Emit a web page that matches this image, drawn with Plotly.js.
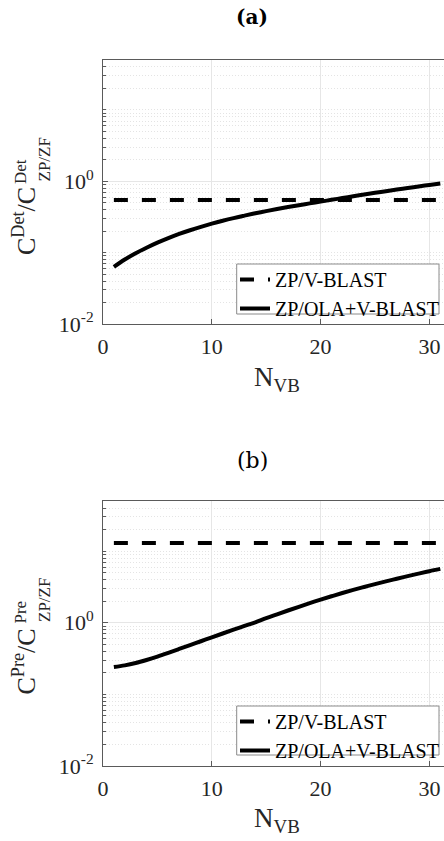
<!DOCTYPE html>
<html>
<head>
<meta charset="utf-8">
<script src="https://cdn.plot.ly/plotly-3.0.1.min.js"></script>
<style>
html,body{margin:0;padding:0;background:#fff;overflow:hidden;}
#chart{width:444px;height:841px;}
</style>
</head>
<body>
<div id="chart"></div>
<script>
// ---- data ----
const nVB = [1,2,3,4,5,6,7,8,9,10,11,12,13,14,15,16,17,18,19,20,21,22,23,24,25,26,27,28,29,30,31];
const legendNames = ["ZP/V-BLAST", "ZP/OLA+V-BLAST"];
// (a) detection complexity ratio
const detZPVBLAST = 0.547;
const detZPOLA = [0.063,0.080,0.098,0.117,0.138,0.160,0.183,0.206,0.230,0.255,0.280,0.305,0.330,0.356,0.382,0.408,0.435,0.462,0.490,0.519,0.550,0.582,0.616,0.652,0.689,0.727,0.766,0.806,0.847,0.889,0.932];
// (b) precoding complexity ratio
const preZPVBLAST = 13.0;
const preZPOLA = [0.241,0.254,0.274,0.302,0.337,0.380,0.431,0.488,0.552,0.625,0.708,0.800,0.902,1.016,1.161,1.312,1.483,1.671,1.879,2.104,2.344,2.600,2.871,3.162,3.467,3.784,4.121,4.477,4.853,5.248,5.649];
const yTickVals = [0.01, 1];
const yTickText = ["10<sup>-2</sup>", "10<sup>0</sup>"];
const xTickVals = [0, 10, 20, 30];
const panelTitles = ["<b>(a)</b>", "(b)"];
const yTitleMain = ["C<sup>Det</sup>/C", "C<sup>Pre</sup>/C"];
const yTitleSup = ["Det", "Pre"];
const yTitleSub = "ZP/ZF";
const xTitle = "N<sub>VB</sub>";

// ---- layout geometry ----
const W = 444, H = 841;
const M = {l:103, r:0, t:60, b:75};
const PW = W - M.l - M.r, PH = H - M.t - M.b;
const xp = px => (px - M.l) / PW;
const yp = py => (H - M.b - py) / PH;

const minorVals = [];
[0.01, 0.1, 1, 10].forEach(d => { for (let k = 1; k <= 9; k++) { const v = d*k; if (Math.abs(v-0.01)>1e-9 && Math.abs(v-1)>1e-9 && v <= 50) minorVals.push(v); } });

const serif = "Liberation Serif, Times New Roman, serif";
const axisCol = "#5a5a5a";
const txtCol = "#262626";

function xaxis(anchor) {
  return {
    anchor: anchor, range: [0, 31.34], tickvals: xTickVals, ticktext: xTickVals.map(String),
    ticks: "inside", ticklen: 5, tickcolor: axisCol, showline: true, linecolor: axisCol, linewidth: 1,
    mirror: true, showgrid: true, gridcolor: "#e6e6e6", gridwidth: 1, zeroline: false,
    tickfont: {family: serif, size: 22, color: txtCol}, ticklabelstandoff: 3
  };
}
function yaxis(anchor, domain) {
  return {
    anchor: anchor, domain: domain, type: "log", range: [-2, 1.7],
    tickvals: yTickVals, ticktext: yTickText, ticks: "inside", ticklen: 5, tickcolor: axisCol,
    showline: true, linecolor: axisCol, linewidth: 1, mirror: false,
    showgrid: true, gridcolor: "#e6e6e6", gridwidth: 1, zeroline: false,
    tickfont: {family: serif, size: 22, color: txtCol}, ticklabelstandoff: 4,
    minor: {tickvals: minorVals, ticks: "inside", ticklen: 3, tickcolor: axisCol,
            showgrid: true, gridcolor: "#e4e4e4", griddash: "1px,2px", gridwidth: 1}
  };
}

const traces = [
  {x: nVB, y: nVB.map(() => detZPVBLAST), xaxis: "x", yaxis: "y", mode: "lines", name: legendNames[0],
   line: {color: "#000", width: 4, dash: "14px,14px"}, legend: "legend"},
  {x: nVB, y: detZPOLA, xaxis: "x", yaxis: "y", mode: "lines", name: legendNames[1],
   line: {color: "#000", width: 4, shape: "spline"}, legend: "legend"},
  {x: nVB, y: nVB.map(() => preZPVBLAST), xaxis: "x2", yaxis: "y2", mode: "lines", name: legendNames[0],
   line: {color: "#000", width: 4, dash: "14px,14px"}, legend: "legend2"},
  {x: nVB, y: preZPOLA, xaxis: "x2", yaxis: "y2", mode: "lines", name: legendNames[1],
   line: {color: "#000", width: 4, shape: "spline"}, legend: "legend2"}
];

const legendStyle = (ytop) => ({
  x: xp(235), y: yp(ytop), xref: "paper", yref: "paper", xanchor: "left", yanchor: "top",
  bgcolor: "rgba(0,0,0,0)", borderwidth: 0,
  font: {family: serif, size: 20, color: "#000"}, tracegroupgap: 0, itemwidth: 30
});

const legendBox = (ytop, ybot) => ({
  type: "rect", xref: "paper", yref: "paper", layer: "above",
  x0: xp(236.7), x1: xp(439), y0: yp(ybot), y1: yp(ytop),
  fillcolor: "#ffffff", line: {color: "#8a8a8a", width: 1}
});

const ann = [];
const offs = [0, 440.5];
for (let i = 0; i < 2; i++) {
  const o = offs[i];
  ann.push({text: panelTitles[i], x: xp(252), y: yp(i === 0 ? 17.5 : 460), xref: "paper", yref: "paper",
            showarrow: false, xanchor: "center", yanchor: "middle",
            font: {family: "DejaVu Serif, serif", size: i === 0 ? 20 : 22, color: "#000"}});
  ann.push({text: yTitleMain[i], x: xp(25), y: yp(221 + o), xref: "paper", yref: "paper", textangle: -90,
            showarrow: false, xanchor: "center", yanchor: "middle",
            font: {family: serif, size: 26, color: txtCol}});
  ann.push({text: yTitleSup[i], x: xp(20), y: yp(172 + o), xref: "paper", yref: "paper", textangle: -90,
            showarrow: false, xanchor: "center", yanchor: "middle",
            font: {family: serif, size: 17, color: txtCol}});
  ann.push({text: yTitleSub, x: xp(44.5), y: yp(160 + o), xref: "paper", yref: "paper", textangle: -90,
            showarrow: false, xanchor: "center", yanchor: "middle",
            font: {family: serif, size: 17, color: txtCol}});
  ann.push({text: xTitle, x: xp(276.7), y: yp(379 + o), xref: "paper", yref: "paper",
            showarrow: false, xanchor: "center", yanchor: "middle",
            font: {family: serif, size: 27, color: txtCol}});
}

const layout = {
  width: W, height: H, margin: M, paper_bgcolor: "#fff", plot_bgcolor: "#fff", showlegend: true,
  font: {family: serif},
  xaxis: xaxis("y"), yaxis: yaxis("x", [yp(324), 1]),
  xaxis2: xaxis("y2"), yaxis2: yaxis("x2", [0, yp(501)]),
  legend: legendStyle(260), legend2: legendStyle(702),
  shapes: [legendBox(264, 314), legendBox(706, 755)],
  annotations: ann
};

Plotly.newPlot("chart", traces, layout, {staticPlot: true, displayModeBar: false});
</script>
</body>
</html>
